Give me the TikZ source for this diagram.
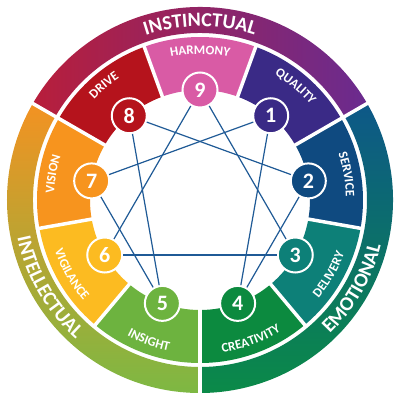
\documentclass[tikz,border=0pt]{standalone}
\usepackage{fontspec}
\setmainfont{Carlito}
\usepackage{tikz}
\usetikzlibrary{decorations.text}

\definecolor{instA}{HTML}{B81E3B}
\definecolor{instB}{HTML}{D0478E}
\definecolor{instC}{HTML}{6A2B8F}
\definecolor{emoA}{HTML}{0D5888}
\definecolor{emoB}{HTML}{0B7478}
\definecolor{emoC}{HTML}{0B8A48}
\definecolor{intA}{HTML}{F39222}
\definecolor{intB}{HTML}{F6B224}
\definecolor{intC}{HTML}{7DB843}
\definecolor{segone}{HTML}{3A2A86}
\definecolor{segtwo}{HTML}{0F4A80}
\definecolor{segthree}{HTML}{0D8078}
\definecolor{segfour}{HTML}{0C8A3F}
\definecolor{segfive}{HTML}{6DB33F}
\definecolor{segsix}{HTML}{FCBB21}
\definecolor{segseven}{HTML}{F7941E}
\definecolor{segeight}{HTML}{B5131C}
\definecolor{segnine}{HTML}{D95BA5}
\definecolor{lineblue}{HTML}{1F5A96}

\newcommand{\segfont}{\fontsize{13}{13}\selectfont\bfseries}
\newcommand{\bandfont}{\fontsize{20}{20}\selectfont\bfseries}

\tikzset{
  num/.style={circle, draw=white, line width=2pt, minimum size=35pt, inner sep=0pt,
    text=white, font=\fontsize{22}{22}\selectfont\bfseries},
  gap/.style={draw=white, line width=3.5pt},
  ennea/.style={draw=lineblue, line width=1.2pt},
  seglabel/.style={decorate, decoration={text along path, text color=white,
    text align=center, text={|\segfont|#1}}},
  bandlabel/.style={decorate, decoration={text along path, text color=white,
    text align=center, text={|\bandfont|#1}}},
}

\begin{document}
\begin{tikzpicture}[x=1pt, y=1pt]
    \fill[white] (-200,-200) rectangle (200,200);
    \useasboundingbox (-200,-200) rectangle (200,200);

    % outer bands
    \shade[left color=instA, middle color=instB, right color=instC] (30:167) arc[start angle=30, end angle=150, radius=167] -- (150:193) arc[start angle=150, end angle=30, radius=193] -- cycle;
    \shade[top color=emoA, middle color=emoB, bottom color=emoC] (-90:167) arc[start angle=-90, end angle=30, radius=167] -- (30:193) arc[start angle=30, end angle=-90, radius=193] -- cycle;
    \shade[top color=intA, middle color=intB, bottom color=intC] (150:167) arc[start angle=150, end angle=270, radius=167] -- (270:193) arc[start angle=270, end angle=150, radius=193] -- cycle;

    % segments
    \fill[segnine] (70:110) arc[start angle=70, end angle=110, radius=110] -- (110:163) arc[start angle=110, end angle=70, radius=163] -- cycle;
    \fill[segone] (30:110) arc[start angle=30, end angle=70, radius=110] -- (70:163) arc[start angle=70, end angle=30, radius=163] -- cycle;
    \fill[segtwo] (-10:110) arc[start angle=-10, end angle=30, radius=110] -- (30:163) arc[start angle=30, end angle=-10, radius=163] -- cycle;
    \fill[segthree] (-50:110) arc[start angle=-50, end angle=-10, radius=110] -- (-10:163) arc[start angle=-10, end angle=-50, radius=163] -- cycle;
    \fill[segfour] (-90:110) arc[start angle=-90, end angle=-50, radius=110] -- (-50:163) arc[start angle=-50, end angle=-90, radius=163] -- cycle;
    \fill[segfive] (230:110) arc[start angle=230, end angle=270, radius=110] -- (270:163) arc[start angle=270, end angle=230, radius=163] -- cycle;
    \fill[segsix] (190:110) arc[start angle=190, end angle=230, radius=110] -- (230:163) arc[start angle=230, end angle=190, radius=163] -- cycle;
    \fill[segseven] (150:110) arc[start angle=150, end angle=190, radius=110] -- (190:163) arc[start angle=190, end angle=150, radius=163] -- cycle;
    \fill[segeight] (110:110) arc[start angle=110, end angle=150, radius=110] -- (150:163) arc[start angle=150, end angle=110, radius=163] -- cycle;

    % white gaps
    \draw[gap] (30:105) -- (30:197);
    \draw[gap] (150:105) -- (150:197);
    \draw[gap] (270:105) -- (270:197);
    \draw[gap] (70:105) -- (70:165);
    \draw[gap] (110:105) -- (110:165);
    \draw[gap] (190:105) -- (190:165);
    \draw[gap] (230:105) -- (230:165);
    \draw[gap] (-10:105) -- (-10:165);
    \draw[gap] (-50:105) -- (-50:165);

    % band labels
    \path[bandlabel=INSTINCTUAL] (150:173.5) arc[start angle=150, end angle=30, radius=173.5];
    \path[bandlabel=EMOTIONAL] (-90:186.5) arc[start angle=-90, end angle=30, radius=186.5];
    \path[bandlabel=INTELLECTUAL] (150:186.5) arc[start angle=150, end angle=270, radius=186.5];

    % segment labels
    \path[seglabel=HARMONY] (115:146) arc[start angle=115, end angle=65, radius=146];
    \path[seglabel=QUALITY] (75:146) arc[start angle=75, end angle=25, radius=146];
    \path[seglabel=SERVICE] (35:146) arc[start angle=35, end angle=-15, radius=146];
    \path[seglabel=DRIVE] (155:146) arc[start angle=155, end angle=105, radius=146];
    \path[seglabel=VISION] (195:146) arc[start angle=195, end angle=145, radius=146];
    \path[seglabel=DELIVERY] (-55:154) arc[start angle=-55, end angle=-5, radius=154];
    \path[seglabel=CREATIVITY] (-95:154) arc[start angle=-95, end angle=-45, radius=154];
    \path[seglabel=INSIGHT] (225:154) arc[start angle=225, end angle=275, radius=154];
    \path[seglabel=VIGILANCE] (185:154) arc[start angle=185, end angle=235, radius=154];

    % numbers
    \node[num, fill=segnine] (n9) at (90:110) {9};
    \node[num, fill=segone] (n1) at (50:110) {1};
    \node[num, fill=segtwo] (n2) at (10:110) {2};
    \node[num, fill=segthree] (n3) at (-30:110) {3};
    \node[num, fill=segfour] (n4) at (-70:110) {4};
    \node[num, fill=segfive] (n5) at (250:110) {5};
    \node[num, fill=segsix] (n6) at (210:110) {6};
    \node[num, fill=segseven] (n7) at (170:110) {7};
    \node[num, fill=segeight] (n8) at (130:110) {8};

    \draw[ennea] (n9) -- (n3);
    \draw[ennea] (n3) -- (n6);
    \draw[ennea] (n6) -- (n9);
    \draw[ennea] (n1) -- (n4);
    \draw[ennea] (n4) -- (n2);
    \draw[ennea] (n2) -- (n8);
    \draw[ennea] (n8) -- (n5);
    \draw[ennea] (n5) -- (n7);
    \draw[ennea] (n7) -- (n1);
\end{tikzpicture}
\end{document}
